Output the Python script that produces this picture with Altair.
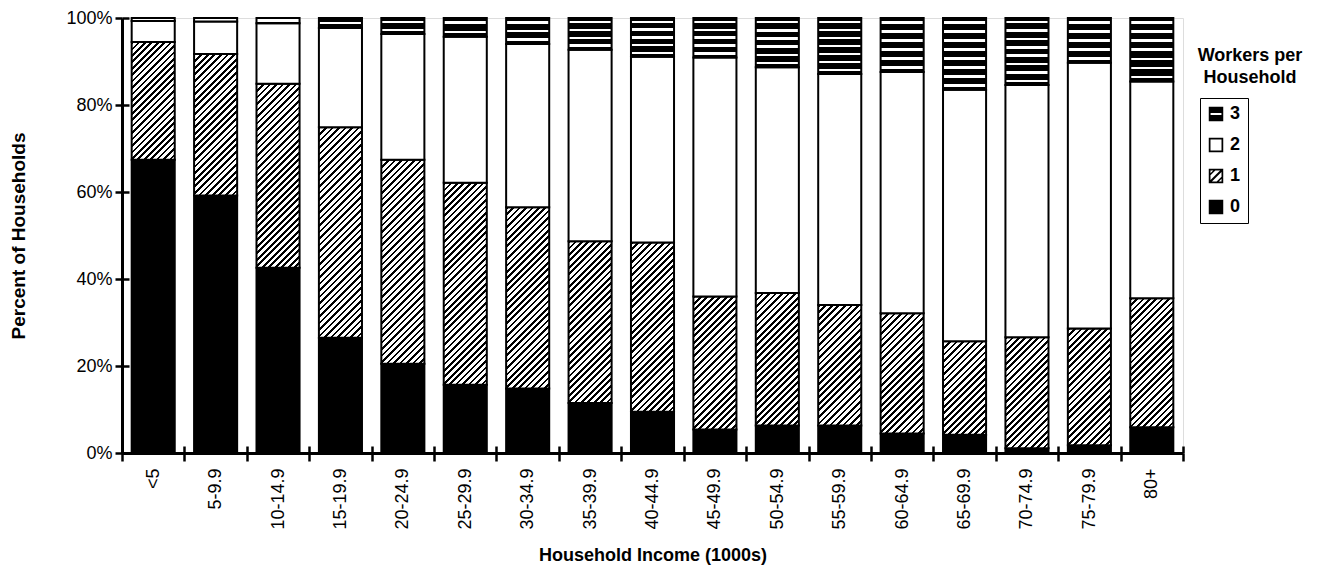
import altair as alt
import pandas as pd

FONT = "Liberation Sans"

income = ["<5", "5-9.9", "10-14.9", "15-19.9", "20-24.9", "25-29.9", "30-34.9",
          "35-39.9", "40-44.9", "45-49.9", "50-54.9", "55-59.9", "60-64.9",
          "65-69.9", "70-74.9", "75-79.9", "80+"]
workers = ["0", "1", "2", "3"]
legend_order = ["3", "2", "1", "0"]

# percent of households by number of workers
w0 = [67.4, 59.2, 42.6, 26.5, 20.5, 15.7, 14.8, 11.5, 9.5, 5.4, 6.3, 6.3, 4.5, 4.2, 1.1, 1.8, 5.9]
w1 = [27.1, 32.5, 42.3, 48.4, 46.9, 46.4, 41.7, 37.2, 38.9, 30.6, 30.5, 27.7, 27.6, 21.5, 25.5, 26.8, 29.7]
w2 = [4.8, 7.5, 13.9, 22.8, 28.9, 33.6, 37.5, 44.0, 42.7, 54.9, 51.9, 53.1, 55.5, 57.8, 58.0, 61.1, 49.8]
w3 = [0.7, 0.8, 1.2, 2.3, 3.7, 4.3, 6.0, 7.3, 8.9, 9.1, 11.3, 12.9, 12.4, 16.5, 15.4, 10.3, 14.6]

y_ticks = [0, 20, 40, 60, 80, 100]

rows = []
for i, inc in enumerate(income):
    for k, vals in zip(workers, [w0, w1, w2, w3]):
        rows.append({"income": inc, "workers": k, "pct": vals[i]})
df = pd.DataFrame(rows)

PLOT_W, PLOT_H = 1061, 435
BAR_FRAC = 0.69
BAR_W = PLOT_W / len(income) * BAR_FRAC


def hatch(h, w=BAR_W, period=6.5, frac=0.42):
    """diagonal '/' hatch as a striped linear gradient in bbox units"""
    h = max(h, 1.0)
    s = (1 / h + 1 / w) / (1 / h ** 2 + 1 / w ** 2)
    n = max(1, round((w + h) / period))
    stops = []
    for k in range(n):
        a, b, c = k / n, (k + frac) / n, (k + 1) / n
        stops += [{"offset": a, "color": "black"}, {"offset": b, "color": "black"},
                  {"offset": b, "color": "white"}, {"offset": c, "color": "white"}]
    return {"gradient": "linear", "x1": 0, "y1": 0, "x2": s / h, "y2": s / w, "stops": stops}


def stripes(h, period=8.5, white=2.6):
    """horizontal white lines on black"""
    h = max(h, 1.0)
    n = max(1, round(h / period))
    half = min(white / 2 / h, 0.3 / n)
    stops = [{"offset": 0, "color": "black"}]
    for k in range(n):
        c = (k + 0.5) / n
        stops += [{"offset": c - half, "color": "black"}, {"offset": c - half, "color": "white"},
                  {"offset": c + half, "color": "white"}, {"offset": c + half, "color": "black"}]
    stops.append({"offset": 1, "color": "black"})
    return {"gradient": "linear", "x1": 0, "y1": 0, "x2": 0, "y2": 1, "stops": stops}


conds = [{"test": "datum.workers === '0'", "value": "black"}]
for i, inc in enumerate(income):
    conds.append({"test": f"datum.income === '{inc}' && datum.workers === '1'",
                  "value": hatch(w1[i] * PLOT_H / 100)})
    conds.append({"test": f"datum.income === '{inc}' && datum.workers === '3'",
                  "value": stripes(w3[i] * PLOT_H / 100)})

x_enc = alt.X("income:N", sort=income,
              scale=alt.Scale(paddingInner=0, paddingOuter=0),
              axis=alt.Axis(title="Household Income (1000s)", labelAngle=270,
                            tickBand="extent", domainWidth=3, domainColor="black",
                            tickColor="black", tickSize=8, tickWidth=2.5,
                            labelPadding=7, labelFontSize=18, labelFont=FONT,
                            labelColor="black", titleFont=FONT, titleFontSize=18,
                            titleFontWeight="bold", titleColor="black", titlePadding=17))

bars = alt.Chart(df).mark_bar(stroke="black", strokeWidth=2,
                              width=alt.RelativeBandSize(BAR_FRAC)).encode(
    x=x_enc,
    y=alt.Y("pct:Q", stack="zero", scale=alt.Scale(domain=[0, 100], nice=False),
            axis=alt.Axis(values=y_ticks, labelExpr="datum.value + '%'", grid=False,
                          domainWidth=3, domainColor="black", tickColor="black",
                          tickSize=7, tickWidth=2.5, labelFontSize=18, labelFont=FONT,
                          labelColor="black", labelPadding=3,
                          title="Percent of Households", titleFont=FONT,
                          titleFontSize=19, titleFontWeight="bold", titleColor="black",
                          titlePadding=37)),
    detail="workers:N",
    order=alt.Order("workers:O", sort="ascending"),
    fill=alt.FillValue(value="white", condition=conds),
)

# legend symbols (custom shapes, unit box -1..1)
sym = {
    "3": "M-1,-1H1V1H-1Z M-0.75,-0.13V0.13H0.75V-0.13Z",
    "2": "M-1,-1H1V1H-1Z M-0.76,-0.76V0.76H0.76V-0.76Z",
    "1": ("M-1,-1H1V1H-1Z M-0.76,-0.76V0.76H0.76V-0.76Z "
          "M0.8,-1L1,-1L1,-0.8L-0.8,1L-1,1L-1,0.8Z "
          "M-0.15,-1L0.15,-1L-1,0.15L-1,-0.15Z "
          "M1,-0.15L1,0.15L0.15,1L-0.15,1Z"),
    "0": "M-1,-1H1V1H-1Z",
}

leg = dict(title=None, orient="none", legendX=1078, legendY=80, strokeColor="black",
           padding=7, symbolSize=210, rowPadding=13, labelFontSize=18,
           labelFont=FONT, labelFontWeight="bold", labelColor="black",
           symbolStrokeWidth=0, symbolOpacity=1, labelOffset=5)

# invisible points: carry the legend and the inner half of the crossing ticks
pts = alt.Chart(df).mark_point(size=0, filled=True, strokeWidth=0, opacity=1).encode(
    x=alt.X("income:N", sort=income,
            axis=alt.Axis(orient="bottom", offset=-7, tickBand="extent", domain=False,
                          labels=False, title=None, tickColor="black", tickSize=7,
                          tickWidth=2.5)),
    y=alt.Y("pct:Q",
            axis=alt.Axis(orient="left", offset=-7, values=y_ticks, domain=False,
                          labels=False, title=None, grid=False, tickColor="black",
                          tickSize=7, tickWidth=2.5)),
    fill=alt.Fill("workers:N", scale=alt.Scale(domain=legend_order, range=["black"] * 4),
                  legend=alt.Legend(**leg)),
    shape=alt.Shape("workers:N", scale=alt.Scale(domain=legend_order,
                                                 range=[sym[k] for k in legend_order]),
                    legend=alt.Legend(**leg)),
)

chart = alt.layer(bars, pts).resolve_axis(x="independent", y="independent").properties(
    width=PLOT_W, height=PLOT_H,
    autosize=alt.AutoSizeParams(type="none"),
    padding={"left": 114, "top": 10, "right": 130, "bottom": 114},
    title=alt.TitleParams(text=["Workers per", "Household"], anchor="start", frame="group",
                          align="center", dx=1128, dy=78, offset=0, baseline="top",
                          fontSize=18, fontWeight="bold", font=FONT, color="black",
                          lineHeight=22),
).configure_view(stroke=None).configure_legend(strokeWidth=2.5).configure(background="white")

chart.save("out.html", embed_options={"renderer": "svg", "actions": False})
